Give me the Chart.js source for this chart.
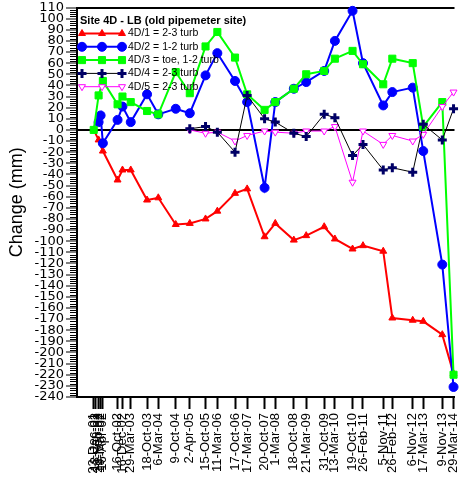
<!DOCTYPE html>
<html>
<head>
<meta charset="utf-8">
<script src="https://cdn.jsdelivr.net/npm/chart.js@4.4.0/dist/chart.umd.min.js"></script>
<style>
  html, body { margin: 0; padding: 0; background: #fff; }
</style>
</head>
<body>
<canvas id="Chart" width="462" height="477"></canvas>
<script>
// survey dates (also the x tick labels)
const surveyDates = ['23-Dec-01', '13-Jan-02', '22-Feb-02', '19-Mar-02', '16-Apr-02', '16-Oct-02', '16-Dec-02', '29-Mar-03',
  '18-Oct-03', '6-Mar-04', '9-Oct-04', '2-Apr-05', '15-Oct-05', '11-Mar-06', '17-Oct-06', '17-Mar-07', '20-Oct-07',
  '1-Mar-08', '18-Oct-08', '21-Mar-09', '31-Oct-09', '13-Mar-10', '19-Oct-10', '26-Feb-11', '5-Nov-11', '26-Feb-12',
  '6-Nov-12', '17-Mar-13', '9-Nov-13', '29-Mar-14'];

// change in mm for each pipe, one value per survey date (null = not read)
const pipe4D1 = [0, null, -9, null, -19, -45, -36, -36, -63, -61, -85, -84, -80, -73, -57, -53, -96, -84, -99, -95,
  -87, -98, -107, -104, -109, -169, -171, -172, -184, -219];
const pipe4D2 = [null, null, 7, 13, -12, 9, 21, 7, 32, 14, 19, 15, 49, 69, 44, 25, -52, 25, 37, 43,
  53, 80, 107, 60, 22, 34, 38, -19, -121, -231];
const pipe4D3 = [0, null, 31, null, 44, 23, 30, 25, 17, 14, 52, 33, 75, 88, 65, 32, 18, 25, 37, 50,
  53, 64, 71, 59, 41, 64, 60, 3, 25, -220];
const pipe4D4 = [null, null, null, null, null, null, null, null, null, null, null, 1, 3, -2, -20, 31, 10, 7, -3, -6,
  14, 11, -23, -13, -36, -34, -38, 5, -9, 19];
const pipe4D5 = [null, null, null, null, null, null, null, null, null, null, null, 0, -3, -2, -10, -5, -1, -2, -3, -1,
  -1, 3, -47, -1, -13, -5, -10, -4, 21, 34];

const seriesLabels = ['4D/1 = 2-3 turb', '4D/2 = 1-2 turb', '4D/3 = toe, 1-2 turb', '4D/4 = 2-3 turb', '4D/5 = 2-3 turb'];
const legendTitle = 'Site 4D - LB (old pipemeter site)';

const months = ['Jan','Feb','Mar','Apr','May','Jun','Jul','Aug','Sep','Oct','Nov','Dec'];
function toDay(s) {
  const p = s.split('-');
  return Date.UTC(2000 + Number(p[2]), months.indexOf(p[1]), Number(p[0])) / 86400000;
}
const dayNums = surveyDates.map(toDay);
function toPoints(arr) {
  const out = [];
  arr.forEach((v, i) => { if (v !== null) out.push({x: dayNums[i], y: v}); });
  return out;
}

Chart.defaults.font.family = '"Liberation Sans", Arial, sans-serif';
Chart.defaults.color = '#000';

// small ticks every 2 mm on the y axis
const minorTicks = {
  id: 'minorTicks',
  afterDraw(chart) {
    const y = chart.scales.y, ctx = chart.ctx;
    ctx.save();
    ctx.strokeStyle = '#000';
    ctx.lineWidth = 1;
    ctx.beginPath();
    for (let v = y.min; v <= y.max; v += 2) {
      if (v % 10 === 0) continue;
      const py = Math.round(y.getPixelForValue(v)) + 0.5;
      ctx.moveTo(y.right - 7, py);
      ctx.lineTo(y.right, py);
    }
    ctx.stroke();
    ctx.restore();
  }
};

// legend drawn inside the plot, line with three markers like the original
const boxLegend = {
  id: 'boxLegend',
  afterDatasetsDraw(chart) {
    const ctx = chart.ctx, area = chart.chartArea;
    const x0 = area.left + 3;
    ctx.save();
    ctx.textBaseline = 'middle';
    ctx.fillStyle = '#000';
    ctx.font = 'bold 11px "Liberation Sans", Arial';
    ctx.fillText(legendTitle, x0, area.top + 13);
    chart.data.datasets.forEach((ds, i) => {
      const ly = area.top + 26 + i * 13.3;
      ctx.strokeStyle = ds.borderColor;
      ctx.lineWidth = ds.borderWidth;
      ctx.beginPath();
      ctx.moveTo(x0, ly);
      ctx.lineTo(x0 + 43, ly);
      ctx.stroke();
      [x0 + 2, x0 + 22, x0 + 42].forEach(px => {
        ctx.fillStyle = ds.pointBackgroundColor;
        ctx.strokeStyle = ds.pointBorderColor;
        ctx.lineWidth = ds.pointBorderWidth;
        Chart.helpers.drawPoint(ctx, {
          pointStyle: ds.pointStyle, radius: ds.pointRadius,
          rotation: ds.pointRotation || 0, borderWidth: ds.pointBorderWidth
        }, px, ly);
      });
      ctx.fillStyle = '#000';
      ctx.font = '10.5px "Liberation Sans", Arial';
      ctx.fillText(ds.label, x0 + 48, ly);
    });
    ctx.restore();
  }
};

const ctx = document.getElementById('Chart').getContext('2d');
const pipeChart = new Chart(ctx, {
  type: 'line',
  data: {
    datasets: [
      { label: seriesLabels[0], data: toPoints(pipe4D1), borderColor: '#ff0000', borderWidth: 2,
        pointStyle: 'triangle', pointRadius: 4, pointBackgroundColor: '#ff0000', pointBorderColor: '#ff0000',
        pointBorderWidth: 1, order: 5 },
      { label: seriesLabels[1], data: toPoints(pipe4D2), borderColor: '#0000ff', borderWidth: 2,
        pointStyle: 'circle', pointRadius: 4.5, pointBackgroundColor: '#0000ff', pointBorderColor: '#0000ff',
        pointBorderWidth: 1, order: 4 },
      { label: seriesLabels[2], data: toPoints(pipe4D3), borderColor: '#00ff00', borderWidth: 2,
        pointStyle: 'rect', pointRadius: 5, pointBackgroundColor: '#00ff00', pointBorderColor: '#00ff00',
        pointBorderWidth: 1, order: 3 },
      { label: seriesLabels[3], data: toPoints(pipe4D4), borderColor: '#000000', borderWidth: 1,
        pointStyle: 'cross', pointRadius: 4.5, pointBackgroundColor: '#000066', pointBorderColor: '#000066',
        pointBorderWidth: 3, order: 1 },
      { label: seriesLabels[4], data: toPoints(pipe4D5), borderColor: '#ff00ff', borderWidth: 1,
        pointStyle: 'triangle', pointRotation: 180, pointRadius: 4, pointBackgroundColor: '#ffffff',
        pointBorderColor: '#ff00ff', pointBorderWidth: 1, order: 2 }
    ]
  },
  options: {
    responsive: false,
    animation: false,
    clip: false,
    layout: { padding: { left: 0, right: 1, top: 0, bottom: 0 } },
    plugins: {
      legend: { display: false },
      tooltip: { enabled: false }
    },
    scales: {
      x: {
        type: 'linear',
        min: dayNums[0] - 208,
        max: dayNums[dayNums.length - 1] + 12,
        afterBuildTicks: s => { s.ticks = dayNums.map(v => ({ value: v })); },
        afterFit: s => { s.height = 80; s.paddingLeft = 0; s.paddingRight = 0; },
        ticks: {
          autoSkip: false, minRotation: 90, maxRotation: 90, padding: 4,
          font: { size: 13 },
          callback: (v, i) => surveyDates[i]
        },
        grid: { drawOnChartArea: false, tickLength: 12, tickWidth: 2, tickColor: '#000' },
        border: { color: '#000', width: 2 }
      },
      y: {
        min: -240,
        max: 110,
        afterFit: s => { s.width = 77; s.paddingTop = 7; s.paddingBottom = 0; },
        ticks: { stepSize: 10, autoSkip: false, padding: 2, font: { family: '"DejaVu Sans"', size: 13 } },
        grid: {
          color: c => (c.tick && (c.tick.value === 0 || c.tick.value === 110)) ? '#000' : 'rgba(0,0,0,0)',
          lineWidth: 2, tickLength: 11, tickColor: '#000', tickWidth: 1
        },
        border: { color: '#000', width: 2 },
        title: { display: true, text: 'Change (mm)', font: { size: 18 }, padding: { top: 6, bottom: 0 } }
      }
    }
  },
  plugins: [minorTicks, boxLegend]
});
</script>
</body>
</html>
